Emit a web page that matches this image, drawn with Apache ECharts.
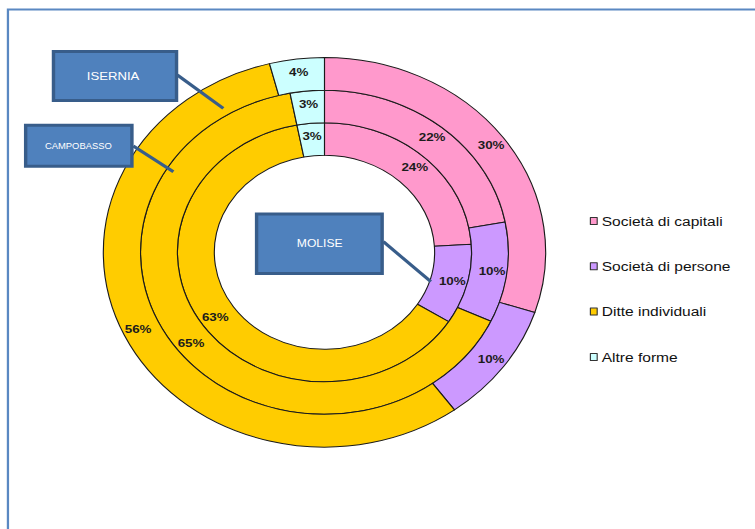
<!DOCTYPE html>
<html><head><meta charset="utf-8">
<script src="https://cdn.jsdelivr.net/npm/echarts@6/dist/echarts.min.js"></script>
<style>
html,body{margin:0;padding:0;background:#fff;overflow:hidden;}
#wrap{width:755px;height:529px;overflow:hidden;position:relative;}
#chart{width:665px;height:529px;transform:scaleX(1.13534);transform-origin:0 0;}
</style></head><body>
<div id="wrap"><div id="chart"></div></div>
<script>
// Categories (legend) and colours
const categories = ['Società di capitali', 'Società di persone', 'Ditte individuali', 'Altre forme'];
const colors = ['#FF99CC', '#CC99FF', '#FFCC00', '#CCFFFF'];
// Values per ring (percent)
const molise = [24, 10, 63, 3];      // inner ring
const campobasso = [22, 10, 65, 3];  // middle ring
const isernia = [30, 10, 56, 4];     // outer ring
const ringNames = ['MOLISE', 'CAMPOBASSO', 'ISERNIA'];

const rings = [molise, campobasso, isernia];
const radii = [[97, 129.5], [129.5, 162], [162, 194.8]];
const center = [285.8, 252.3];

function mkData(vals) {
  return vals.map((v, i) => ({ name: categories[i], value: v, itemStyle: { color: colors[i] } }));
}

const series = rings.map((vals, k) => ({
  type: 'pie',
  name: ringNames[k],
  center: center,
  radius: radii[k],
  startAngle: 90,
  clockwise: true,
  avoidLabelOverlap: false,
  silent: true,
  animation: false,
  itemStyle: { borderColor: '#1a1a1a', borderWidth: 1 },
  label: {
    show: true, position: 'inside', formatter: '{c}%',
    fontFamily: 'Liberation Sans, Arial, sans-serif', fontSize: 11.8, fontWeight: 'bold', color: '#1c1c1c'
  },
  labelLine: { show: false },
  emphasis: { disabled: true },
  data: mkData(vals)
}));

const boxFill = '#4F81BD', boxStroke = '#385D8A';
function box(x, y, w, h, text, tx, ty, fs) {
  return [
    { type: 'rect', z: 100, shape: { x: x, y: y, width: w, height: h },
      style: { fill: boxFill, stroke: boxStroke, lineWidth: 3 } },
    { type: 'text', z: 101, x: tx, y: ty,
      style: { text: text, fill: '#fff', font: fs + 'px "Liberation Sans", Arial, sans-serif',
               textAlign: 'center', textVerticalAlign: 'middle' } }
  ];
}
function line(x1, y1, x2, y2) {
  return { type: 'line', z: 99, shape: { x1: x1, y1: y1, x2: x2, y2: y2 },
           style: { stroke: boxStroke, lineWidth: 3 } };
}

const graphic = [
  { type: 'rect', z: 1, shape: { x: 7, y: 9.5, width: 1000, height: 1000 },
    style: { fill: 'none', stroke: '#5A88C2', lineWidth: 2 } },
  line(156.2, 75, 196.7, 108.3),
  line(117.4, 146, 152.7, 171.7),
  line(337.7, 241.7, 379.5, 281.7),
  ...box(47.1, 51.5, 108.4, 49, 'ISERNIA', 99.6, 76.5, 11.6),
  ...box(22.6, 125.3, 93.6, 41, 'CAMPOBASSO', 69, 146, 8.3),
  ...box(226, 214, 110.6, 59.5, 'MOLISE', 281.6, 243.5, 10.7)
];

const chart = echarts.init(document.getElementById('chart'), null, { renderer: 'svg' });
chart.setOption({
  animation: false,
  backgroundColor: '#fff',
  legend: {
    orient: 'vertical', left: 514.5, top: 209,
    itemWidth: 6, itemHeight: 7, itemGap: 31.3,
    icon: 'rect',
    selectedMode: false,
    data: categories,
    itemStyle: { borderColor: '#333', borderWidth: 1 },
    textStyle: { fontFamily: 'Liberation Sans, Arial, sans-serif', fontSize: 13.7, color: '#111', lineHeight: 14, padding: [0, 0, 0, -1] }
  },
  graphic: graphic,
  series: series
});
</script>
</body></html>
